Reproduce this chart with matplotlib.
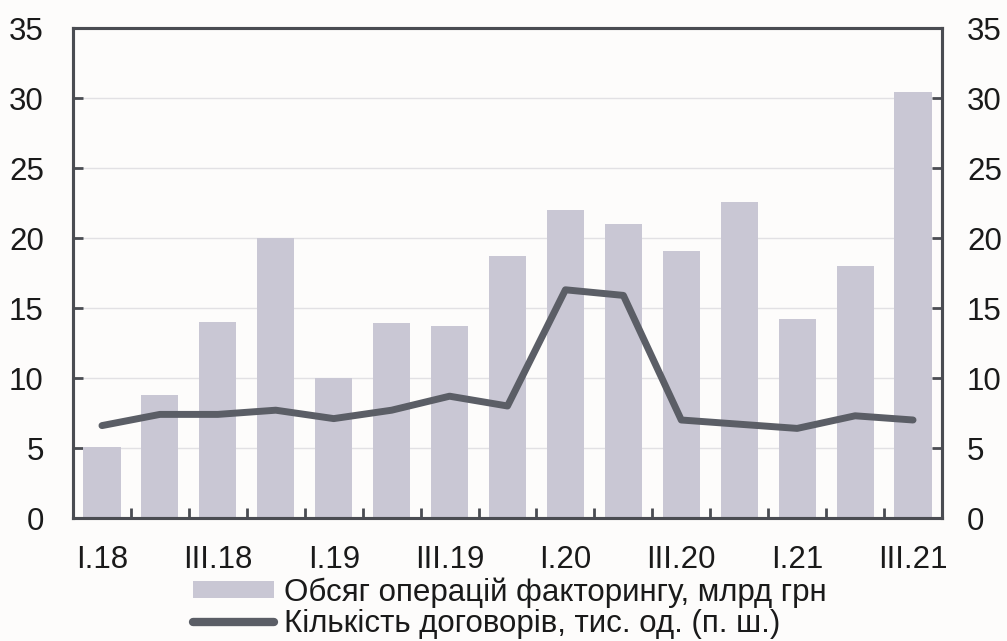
import numpy as np
import matplotlib.pyplot as plt
from matplotlib.patches import Patch
from matplotlib.lines import Line2D

plt.rcParams['font.family'] = ['Liberation Sans', 'DejaVu Sans']

# quarters I.18 .. III.21
quarters = ['I.18', 'II.18', 'III.18', 'IV.18',
            'I.19', 'II.19', 'III.19', 'IV.19',
            'I.20', 'II.20', 'III.20', 'IV.20',
            'I.21', 'II.21', 'III.21']
volume = [5.1, 8.8, 14.0, 20.0, 10.0, 13.9, 13.7, 18.7,
          22.0, 21.0, 19.1, 22.6, 14.2, 18.0, 30.4]
contracts = [6.6, 7.4, 7.4, 7.7, 7.1, 7.7, 8.7, 8.0,
             16.3, 15.9, 7.0, 6.7, 6.4, 7.3, 7.0]
yticks = [0, 5, 10, 15, 20, 25, 30, 35]

label_bar = 'Обсяг операцій факторингу, млрд грн'
label_line = 'Кількість договорів, тис. од. (п. ш.)'

bar_color = '#c9c7d4'
line_color = '#5b5e66'
spine_color = '#4a4c52'
text_color = '#1a1a1a'
bg = '#fdfcfb'
fs = 22.5

fig = plt.figure(figsize=(10.07, 6.41), dpi=100, facecolor=bg)
ax = fig.add_axes([73/1007, 1-518/641, (942-73)/1007, (518-28)/641])
ax.set_facecolor(bg)
ax2 = ax.twinx()

x = np.arange(len(quarters))
ax.bar(x, volume, width=0.64, color=bar_color, zorder=2)
ax2.plot(x, contracts, color=line_color, lw=5, solid_capstyle='round',
         solid_joinstyle='round', zorder=3)

for a in (ax, ax2):
    a.set_ylim(0, 35)
    a.set_yticks(yticks)
    a.set_xlim(-0.5, len(quarters) - 0.5)
    for s in a.spines.values():
        s.set_color(spine_color)
        s.set_linewidth(2.2)

ax.yaxis.grid(True, color='#e2e1e4', lw=1, zorder=0)
ax.set_axisbelow(True)

ax.set_xticks(x[::2])
ax.set_xticklabels(quarters[::2])
ax.set_xticks(np.arange(0.5, len(quarters) - 0.5), minor=True)
ax.tick_params(axis='x', which='major', length=0, pad=19.5, labelsize=fs,
               labelcolor=text_color)
ax.tick_params(axis='x', which='minor', direction='in', length=7, width=2,
               color=spine_color)
ax.tick_params(axis='y', direction='in', length=7, width=2, color=spine_color,
               pad=21, labelsize=fs, labelcolor=text_color)
ax2.tick_params(axis='y', direction='in', length=7, width=2, color=spine_color,
                pad=18, labelsize=fs, labelcolor=text_color)

handles = [Patch(facecolor=bar_color, edgecolor='none'),
           Line2D([0], [0], color=line_color, lw=6, solid_capstyle='round')]
fig.legend(handles, [label_bar, label_line], loc='upper left',
           bbox_to_anchor=(193/1007, 1-577/641), frameon=False,
           fontsize=fs, borderpad=0, borderaxespad=0, handlelength=2.6,
           handleheight=0.5, handletextpad=0.3, labelspacing=0.06,
           labelcolor=text_color)

fig.savefig('out.png', dpi=100, facecolor=bg)
